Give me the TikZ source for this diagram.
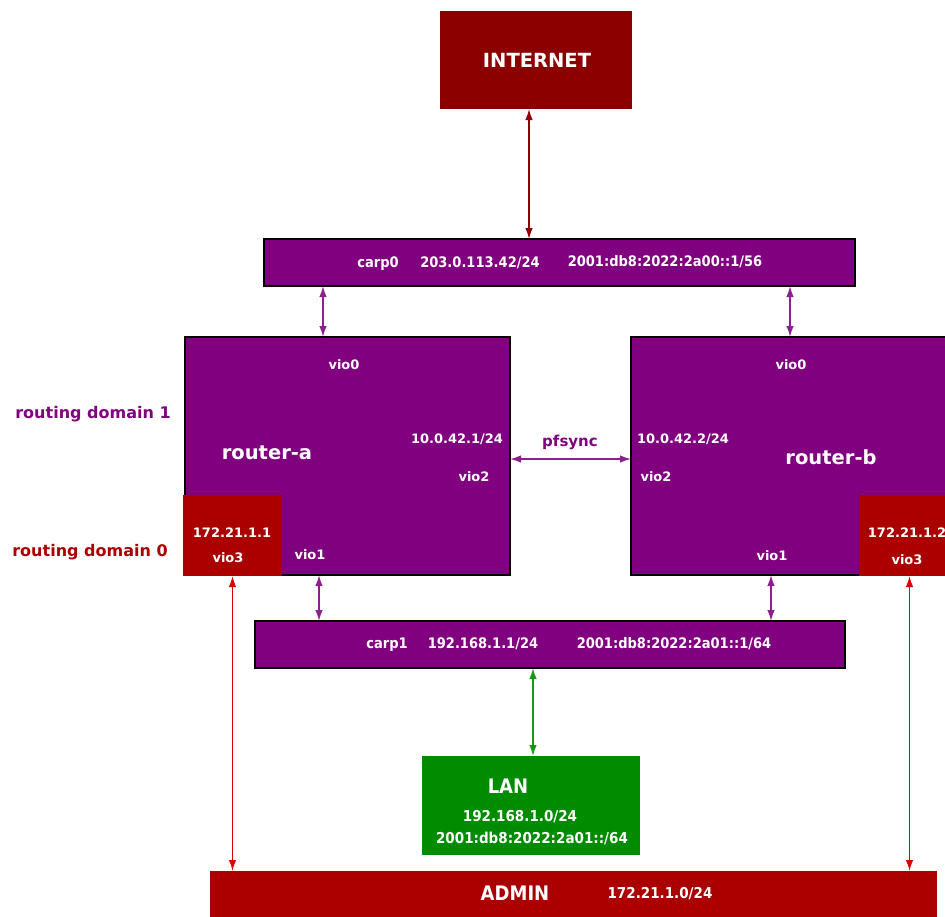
\documentclass[tikz,border=0pt]{standalone}
\usepackage{fontspec}
\setmainfont{DejaVu Sans}
\newfontfamily\condfont{DejaVu Sans Condensed}
\usetikzlibrary{arrows.meta}

\definecolor{netred}{HTML}{8C0000}
\definecolor{admred}{HTML}{AA0000}
\definecolor{rdpurple}{HTML}{800080}
\definecolor{langreen}{HTML}{008C00}
\definecolor{linkred}{HTML}{DD0000}
\definecolor{linkpurple}{HTML}{8E1F8E}
\definecolor{linkgreen}{HTML}{159A15}

\tikzset{
  box/.style={anchor=north west, inner sep=0pt, outer sep=0pt, draw=black, line width=1.2pt, fill=rdpurple},
  plainbox/.style={anchor=north west, inner sep=0pt, outer sep=0pt, draw=none},
  ifname/.style={text=white, inner sep=0pt, text height=9.5pt, text depth=0pt, font=\bfseries\fontsize{13}{15}\selectfont},
  carptext/.style={text=white, inner sep=0pt, text height=10.5pt, text depth=0pt, font=\condfont\bfseries\fontsize{14.5}{17}\selectfont},
  bigname/.style={text=white, inner sep=0pt, text height=14pt, text depth=0pt, font=\bfseries\fontsize{19.5}{22}\selectfont},
  nettitle/.style={text=white, inner sep=0pt, text height=14.5pt, text depth=0pt, font=\condfont\bfseries\fontsize{20}{23}\selectfont},
  rdlabel/.style={inner sep=0pt, text height=11.7pt, text depth=0pt, font=\bfseries\fontsize{16}{19}\selectfont},
  link/.style={{Latex[length=11pt,width=7.5pt]}-{Latex[length=11pt,width=7.5pt]}, line width=1.5pt}
}

\begin{document}
\begin{tikzpicture}[x=1pt,y=-1pt]
  \useasboundingbox (0,0) rectangle (945,916);
  \clip (0,0) rectangle (945,916);

  % Boxes
  \node[plainbox, fill=netred, minimum width=192pt, minimum height=98pt] (internet) at (440,11) {};
  \node[box, minimum width=591pt, minimum height=47pt] (carp0) at (264,239) {};
  \node[box, minimum width=325pt, minimum height=238pt] (routera) at (185,337) {};
  \node[box, minimum width=330pt, minimum height=238pt] (routerb) at (631,337) {};
  \node[plainbox, fill=admred, minimum width=99pt, minimum height=81pt] (vioa) at (183,495) {};
  \node[plainbox, fill=admred, minimum width=101pt, minimum height=81pt] (viob) at (859,495) {};
  \node[box, minimum width=590pt, minimum height=47pt] (carp1) at (255,621) {};
  \node[plainbox, fill=langreen, minimum width=218pt, minimum height=99pt] (lan) at (422,756) {};
  \node[plainbox, fill=admred, minimum width=727pt, minimum height=55pt] (admin) at (210,871) {};

  % Labels
  \node[bigname] (internettext) at (537,60) {INTERNET};
  \node[carptext] (carp0name) at (378,262) {carp0};
  \node[carptext] (carp0v4) at (480,262) {203.0.113.42/24};
  \node[carptext] (carp0v6) at (665,261) {2001:db8:2022:2a00::1/56};

  \node[ifname] (avio0) at (344,365) {vio0};
  \node[bigname] (aname) at (267,452) {router-a};
  \node[ifname] (aaddr) at (457,439) {10.0.42.1/24};
  \node[ifname] (avio2) at (474,477) {vio2};
  \node[ifname] (avio1) at (310,555) {vio1};
  \node[ifname] (aadm) at (232,533) {172.21.1.1};
  \node[ifname] (avio3) at (228,558) {vio3};

  \node[ifname] (bvio0) at (791,365) {vio0};
  \node[ifname] (baddr) at (683,439) {10.0.42.2/24};
  \node[ifname] (bvio2) at (656,477) {vio2};
  \node[bigname] (bname) at (831,457) {router-b};
  \node[ifname] (bvio1) at (772,556) {vio1};
  \node[ifname] (badm) at (907,533) {172.21.1.2};
  \node[ifname] (bvio3) at (907,560) {vio3};

  \node[rdlabel, text=rdpurple] (rd1) at (93,413) {routing domain 1};
  \node[rdlabel, text=admred] (rd0) at (90,551) {routing domain 0};
  \node[inner sep=0pt, text height=11pt, text depth=0pt, text=rdpurple, font=\bfseries\fontsize{15}{18}\selectfont] (pfsync) at (570,441) {pfsync};

  \node[carptext] (carp1name) at (387,643) {carp1};
  \node[carptext] (carp1v4) at (483,643) {192.168.1.1/24};
  \node[carptext] (carp1v6) at (674,643) {2001:db8:2022:2a01::1/64};

  \node[nettitle] (lanname) at (508,786) {LAN};
  \node[carptext, font=\condfont\bfseries\fontsize{15}{17}\selectfont] (lanv4) at (520,816) {192.168.1.0/24};
  \node[carptext, font=\condfont\bfseries\fontsize{15}{17}\selectfont] (lanv6) at (532,838) {2001:db8:2022:2a01::/64};

  \node[nettitle] (adminname) at (515,893) {ADMIN};
  \node[carptext, font=\condfont\bfseries\fontsize{15}{17}\selectfont] (adminv4) at (660,893) {172.21.1.0/24};

  % Links
  \draw[link, netred] ([xshift=-7pt]internet.south) -- ([xshift=-7pt]internet.south |- carp0.north);
  \draw[link, linkpurple] ([xshift=-24.5pt]routera.north) -- ([xshift=-24.5pt]routera.north |- carp0.south);
  \draw[link, linkpurple] ([xshift=-6pt]routerb.north) -- ([xshift=-6pt]routerb.north |- carp0.south);
  \draw[link, linkpurple] ([yshift=-3pt]routera.east) -- ([yshift=-3pt]routera.east -| routerb.west);
  \draw[link, linkpurple] ([xshift=-28.5pt]routera.south) -- ([xshift=-28.5pt]routera.south |- carp1.north);
  \draw[link, linkpurple] ([xshift=-25pt]routerb.south) -- ([xshift=-25pt]routerb.south |- carp1.north);
  \draw[link, linkgreen] ([xshift=2pt]lan.north) -- ([xshift=2pt]lan.north |- carp1.south);
  \draw[link, linkred] (vioa.south) -- (vioa.south |- admin.north);
  \draw[link, linkred] (viob.south) -- (viob.south |- admin.north);
\end{tikzpicture}
\end{document}
